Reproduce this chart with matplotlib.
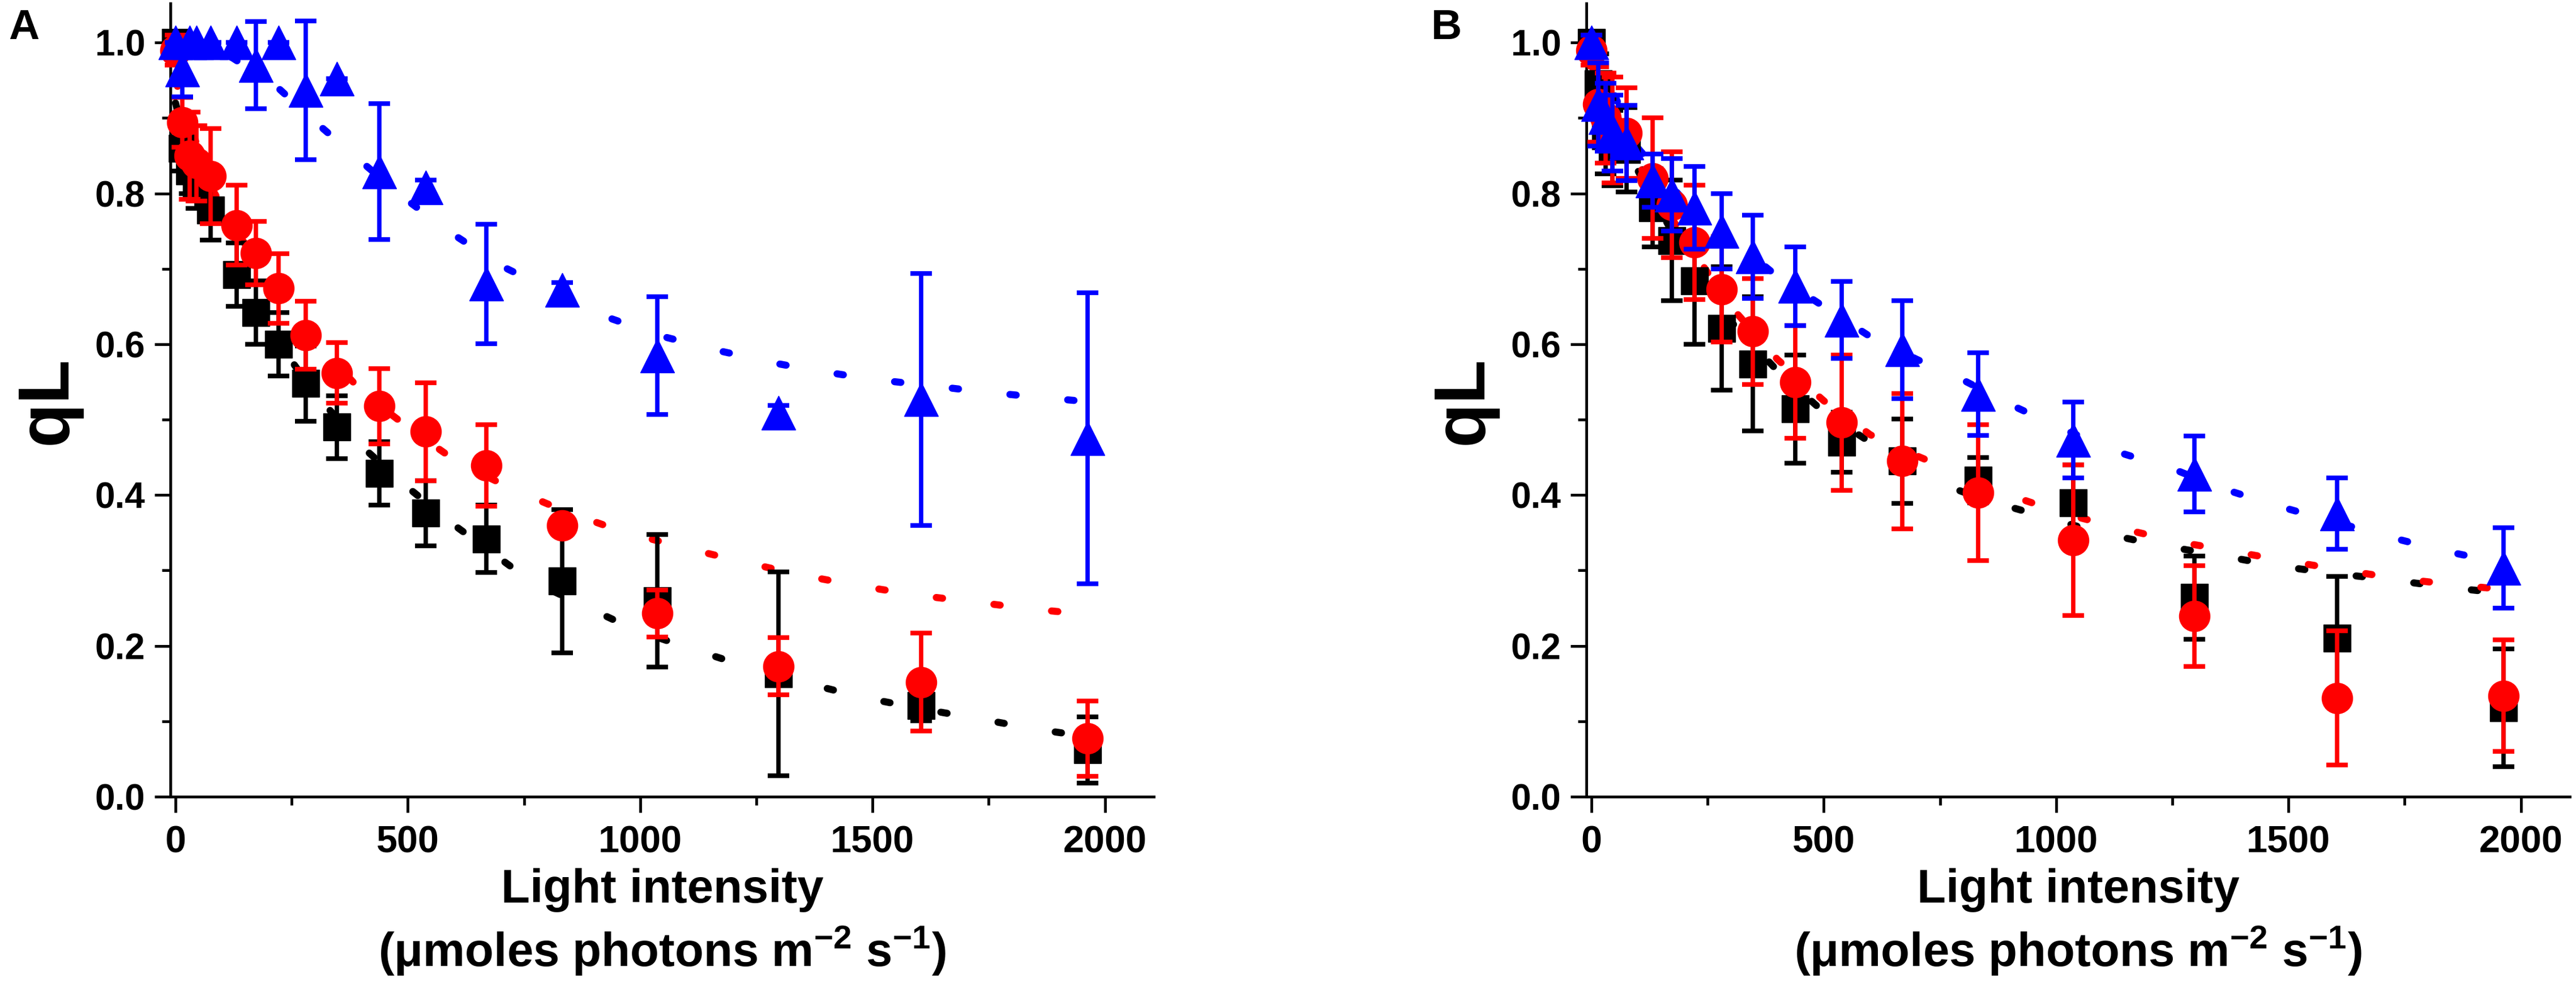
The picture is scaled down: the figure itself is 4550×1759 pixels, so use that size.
import matplotlib.pyplot as plt
from matplotlib.ticker import MultipleLocator

plt.rcParams['font.family'] = ['Liberation Sans', 'DejaVu Sans']
plt.rcParams['font.weight'] = 'bold'
plt.rcParams['mathtext.fontset'] = 'custom'
plt.rcParams['mathtext.rm'] = 'Liberation Sans:bold'
plt.rcParams['mathtext.bf'] = 'Liberation Sans:bold'
plt.rcParams['mathtext.default'] = 'bf'

# light intensities (umol photons m-2 s-1), same steps in both panels
light = [0, 14, 30, 45, 75, 131, 173, 222, 280, 347, 439, 539, 669, 832, 1037, 1297, 1604, 1963]

# panel A
a_black = [1.0, 0.86, 0.83, 0.81, 0.778, 0.692, 0.642, 0.600, 0.548, 0.490, 0.429, 0.376, 0.342, 0.286, 0.260, 0.163, 0.121, 0.062]
a_black_err = [0.01, 0.03, 0.03, 0.03, 0.04, 0.042, 0.042, 0.042, 0.05, 0.042, 0.042, 0.043, 0.045, 0.095, 0.088, 0.135, 0.02, 0.044]
a_red = [0.99, 0.894, 0.85, 0.84, 0.823, 0.758, 0.721, 0.674, 0.612, 0.562, 0.518, 0.484, 0.439, 0.360, 0.243, 0.173, 0.152, 0.077]
a_red_err = [0.02, 0.033, 0.058, 0.05, 0.063, 0.053, 0.042, 0.046, 0.045, 0.04, 0.05, 0.065, 0.054, 0.01, 0.031, 0.038, 0.065, 0.05]
a_blue = [1.0, 0.964, 1.0, 1.0, 1.0, 1.0, 0.97, 1.0, 0.937, 0.952, 0.829, 0.808, 0.680, 0.672, 0.585, 0.509, 0.527, 0.475]
a_blue_err = [0.0, 0.036, 0.0, 0.0, 0.0, 0.0, 0.058, 0.0, 0.092, 0.0, 0.09, 0.01, 0.079, 0.01, 0.078, 0.01, 0.167, 0.193]

# panel A fitted curves
a_black_fit_x = [0, 50, 100, 200, 300, 400, 500, 600, 760, 876, 988, 1103, 1224, 1354, 1481, 1610, 1732, 1857, 1960]
a_black_fit_y = [0.92, 0.80, 0.731, 0.62, 0.535, 0.465, 0.41, 0.36, 0.288, 0.254, 0.2215, 0.1975, 0.1735, 0.151, 0.1314, 0.116, 0.103, 0.089, 0.08]
a_red_fit_x = [0, 75, 131, 246, 321, 405, 500, 611, 729, 840, 960, 1083, 1210, 1345, 1476, 1604, 1727, 1856, 1960]
a_red_fit_y = [0.95, 0.81, 0.75, 0.644, 0.590, 0.535, 0.49, 0.442, 0.407, 0.378, 0.352, 0.332, 0.313, 0.294, 0.279, 0.2666, 0.2576, 0.248, 0.242]
a_blue_fit_x = [0, 122, 217, 308, 398, 496, 597, 704, 820, 928, 1044, 1172, 1298, 1369, 1494, 1625, 1751, 1872, 1960]
a_blue_fit_y = [1.0, 0.98, 0.942, 0.891, 0.843, 0.792, 0.746, 0.703, 0.668, 0.636, 0.611, 0.591, 0.574, 0.566, 0.554, 0.545, 0.536, 0.529, 0.524]

# panel B
b_black = [1.0, 0.945, 0.876, 0.86, 0.858, 0.781, 0.7375, 0.684, 0.621, 0.574, 0.514, 0.470, 0.445, 0.42, 0.39, 0.264, 0.21, 0.118]
b_black_err = [0.01, 0.04, 0.05, 0.05, 0.056, 0.052, 0.08, 0.084, 0.082, 0.089, 0.072, 0.04, 0.056, 0.03, 0.05, 0.055, 0.082, 0.078]
b_red = [0.99, 0.918, 0.90, 0.884, 0.88, 0.82, 0.785, 0.735, 0.673, 0.617, 0.550, 0.496, 0.445, 0.403, 0.34, 0.2395, 0.131, 0.134]
b_red_err = [0.02, 0.05, 0.06, 0.07, 0.06, 0.08, 0.07, 0.076, 0.07, 0.07, 0.075, 0.09, 0.09, 0.09, 0.10, 0.067, 0.089, 0.074]
b_blue = [1.0, 0.918, 0.901, 0.88, 0.867, 0.817, 0.798, 0.781, 0.750, 0.716, 0.677, 0.632, 0.593, 0.534, 0.473, 0.428, 0.3755, 0.3034]
b_blue_err = [0.01, 0.055, 0.045, 0.05, 0.05, 0.035, 0.048, 0.055, 0.05, 0.055, 0.052, 0.051, 0.065, 0.055, 0.05, 0.05, 0.047, 0.053]

b_black_fit_x = [0, 100, 200, 300, 400, 500, 600, 717, 840, 964, 1088, 1218, 1352, 1476, 1600, 1727, 1851, 1960]
b_black_fit_y = [0.97, 0.83, 0.72, 0.63, 0.565, 0.51, 0.47, 0.423, 0.395, 0.373, 0.351, 0.334, 0.320, 0.306, 0.296, 0.287, 0.277, 0.27]
b_red_fit_x = [0, 100, 200, 300, 400, 500, 600, 700, 789, 908, 1020, 1138, 1262, 1356, 1476, 1602, 1727, 1851, 1960]
b_red_fit_y = [0.97, 0.84, 0.74, 0.65, 0.58, 0.525, 0.48, 0.452, 0.429, 0.398, 0.375, 0.356, 0.338, 0.328, 0.3147, 0.302, 0.290, 0.2815, 0.275]
b_blue_fit_x = [0, 100, 200, 300, 400, 500, 600, 700, 806, 910, 1020, 1138, 1254, 1356, 1468, 1590, 1710, 1834, 1960]
b_blue_fit_y = [1.0, 0.86, 0.79, 0.74, 0.69, 0.65, 0.61, 0.58, 0.5505, 0.5175, 0.486, 0.456, 0.434, 0.409, 0.387, 0.366, 0.3455, 0.326, 0.31]


def draw_panel(ax, series, fits):
    for xs, ys, col in fits:
        ax.plot(xs, ys, color=col, lw=9, dashes=(0.9, 7.3), dash_capstyle='round',
                solid_capstyle='round', zorder=2)

    for ys, errs, col, marker, ms, z in series:
        cont = ax.errorbar(light, ys, yerr=errs, fmt=marker, ms=ms, color=col, ecolor=col,
                           mec=col, elinewidth=5.5, capsize=14, capthick=6, zorder=z)
        for art in cont.get_children():
            art.set_clip_on(False)

    ax.set_xlim(-11, 2105)
    ax.set_ylim(0, 1.052)
    ax.spines['top'].set_visible(False)
    ax.spines['right'].set_visible(False)
    for side in ['left', 'bottom']:
        ax.spines[side].set_linewidth(3.5)

    ax.xaxis.set_major_locator(MultipleLocator(500))
    ax.xaxis.set_minor_locator(MultipleLocator(250))
    ax.yaxis.set_major_locator(MultipleLocator(0.2))
    ax.yaxis.set_minor_locator(MultipleLocator(0.1))
    ax.yaxis.set_major_formatter(plt.FormatStrFormatter('%.1f'))
    ax.tick_params(which='major', direction='out', length=20, width=3.5)
    ax.tick_params(which='minor', direction='out', length=11, width=3.5)
    ax.tick_params(axis='x', labelsize=48, pad=16)
    ax.tick_params(axis='y', labelsize=46, pad=12)

    ax.set_xlabel('Light intensity\n(μmoles photons m$^{-2}$ s$^{-1}$)', fontsize=60,
                  fontweight='bold', linespacing=1.3, va='top')
    ax.xaxis.set_label_coords(0.5, -0.09)
    ax.set_ylabel('qL', fontsize=92, fontweight='bold', va='center')
    ax.yaxis.set_label_coords(-0.125, 0.5)


fig = plt.figure(figsize=(45.5, 17.59), dpi=100)
ax_a = fig.add_axes([0.06615, 0.2001, 0.3817, 0.7965])
ax_b = fig.add_axes([0.61582, 0.2001, 0.3817, 0.7965])

draw_panel(ax_a,
           [(a_black, a_black_err, 'black', 's', 34, 3),
            (a_red, a_red_err, 'red', 'o', 39, 4),
            (a_blue, a_blue_err, 'blue', '^', 43, 5)],
           [(a_black_fit_x, a_black_fit_y, 'black'),
            (a_red_fit_x, a_red_fit_y, 'red'),
            (a_blue_fit_x, a_blue_fit_y, 'blue')])
draw_panel(ax_b,
           [(b_black, b_black_err, 'black', 's', 34, 3),
            (b_red, b_red_err, 'red', 'o', 39, 4),
            (b_blue, b_blue_err, 'blue', '^', 43, 5)],
           [(b_black_fit_x, b_black_fit_y, 'black'),
            (b_red_fit_x, b_red_fit_y, 'red'),
            (b_blue_fit_x, b_blue_fit_y, 'blue')])

fig.text(0.0033, 0.9915, 'A', ha='left', va='top', fontsize=54, fontweight='bold')
fig.text(0.5556, 0.9915, 'B', ha='left', va='top', fontsize=54, fontweight='bold')

fig.savefig('out.png', dpi=100, facecolor='white')
